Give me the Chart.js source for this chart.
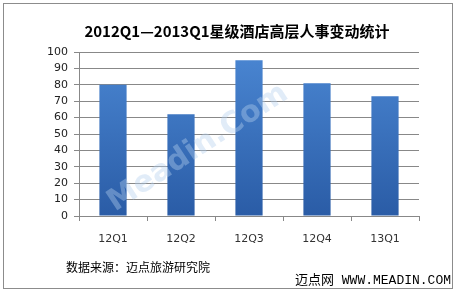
<!DOCTYPE html>
<html>
<head>
<meta charset="utf-8">
<script src="https://cdn.jsdelivr.net/npm/chart.js@4"></script>
<style>
  html, body { margin: 0; padding: 0; background: #fff; }
  #wrap { width: 456px; height: 294px; position: relative; }
</style>
</head>
<body>
<div id="wrap"><canvas id="hrChart" width="456" height="294"></canvas></div>
<script>
// Chart data
const quarters = ['12Q1', '12Q2', '12Q3', '12Q4', '13Q1'];
const changes = [80, 62, 95, 81, 73];
const yMax = 100;
const yStep = 10;

const titleText = '2012Q1—2013Q1星级酒店高层人事变动统计';
const sourceText = '数据来源：迈点旅游研究院';
const siteText = '迈点网 WWW.MEADIN.COM';
const watermarkText = 'Meadin.Com';

// Draws the frame, title, footer texts and the faint watermark
const decorations = {
    id: 'decorations',
    beforeDraw(chart) {
        const ctx = chart.ctx;
        ctx.save();
        ctx.fillStyle = '#fff';
        ctx.fillRect(0, 0, chart.width, chart.height);
        ctx.strokeStyle = '#8c8c8c';
        ctx.lineWidth = 1;
        ctx.strokeRect(3.5, 3.5, 449, 285);
        ctx.restore();
    },
    afterDraw(chart) {
        const ctx = chart.ctx;
        ctx.save();
        ctx.fillStyle = '#000';
        ctx.textBaseline = 'middle';
        ctx.textAlign = 'center';
        ctx.font = 'bold 15px "Noto Sans CJK SC", sans-serif';
        ctx.fillText(titleText, 237, 31);

        ctx.textAlign = 'left';
        ctx.font = '12px "Noto Sans CJK SC", sans-serif';
        ctx.fillText(sourceText, 66, 267);

        ctx.font = '13px "Liberation Mono", "Noto Sans CJK SC", monospace';
        ctx.fillText(siteText, 295, 281);

        // watermark
        ctx.translate(198, 148);
        ctx.rotate(-0.58);
        ctx.textAlign = 'center';
        ctx.font = 'bold 30px "DejaVu Sans", sans-serif';
        ctx.fillStyle = 'rgba(180, 208, 238, 0.4)';
        ctx.fillText(watermarkText, 0, 0);
        ctx.restore();
    }
};

function barGradient(context) {
    const area = context.chart.chartArea;
    if (!area) return '#3a72c0';
    const g = context.chart.ctx.createLinearGradient(0, area.bottom, 0, area.top);
    g.addColorStop(0, '#2a5ca6');
    g.addColorStop(1, '#4a86d2');
    return g;
}

new Chart(document.getElementById('hrChart'), {
    type: 'bar',
    data: {
        labels: quarters,
        datasets: [{
            data: changes,
            backgroundColor: barGradient,
            borderWidth: 0,
            barPercentage: 0.4,
            categoryPercentage: 1.0
        }]
    },
    options: {
        responsive: false,
        animation: false,
        events: [],
        layout: { padding: { left: 0, right: 37, top: 52, bottom: 38 } },
        plugins: {
            legend: { display: false },
            title: { display: false },
            tooltip: { enabled: false }
        },
        scales: {
            x: {
                afterFit(scale) { scale.height = 40; },
                grid: {
                    drawOnChartArea: false,
                    drawTicks: true,
                    tickLength: 5,
                    color: '#888'
                },
                border: { display: true, color: '#888' },
                ticks: {
                    color: '#333',
                    padding: 12,
                    font: { family: 'DejaVu Sans', size: 11 }
                }
            },
            y: {
                min: 0,
                max: yMax,
                afterFit(scale) { scale.width = 79; },
                grid: {
                    color: '#888',
                    tickLength: 5
                },
                border: { display: true, color: '#888' },
                ticks: {
                    stepSize: yStep,
                    autoSkip: false,
                    color: '#222',
                    padding: 6,
                    font: { family: 'DejaVu Sans', size: 11 }
                }
            }
        }
    },
    plugins: [decorations]
});
</script>
</body>
</html>
